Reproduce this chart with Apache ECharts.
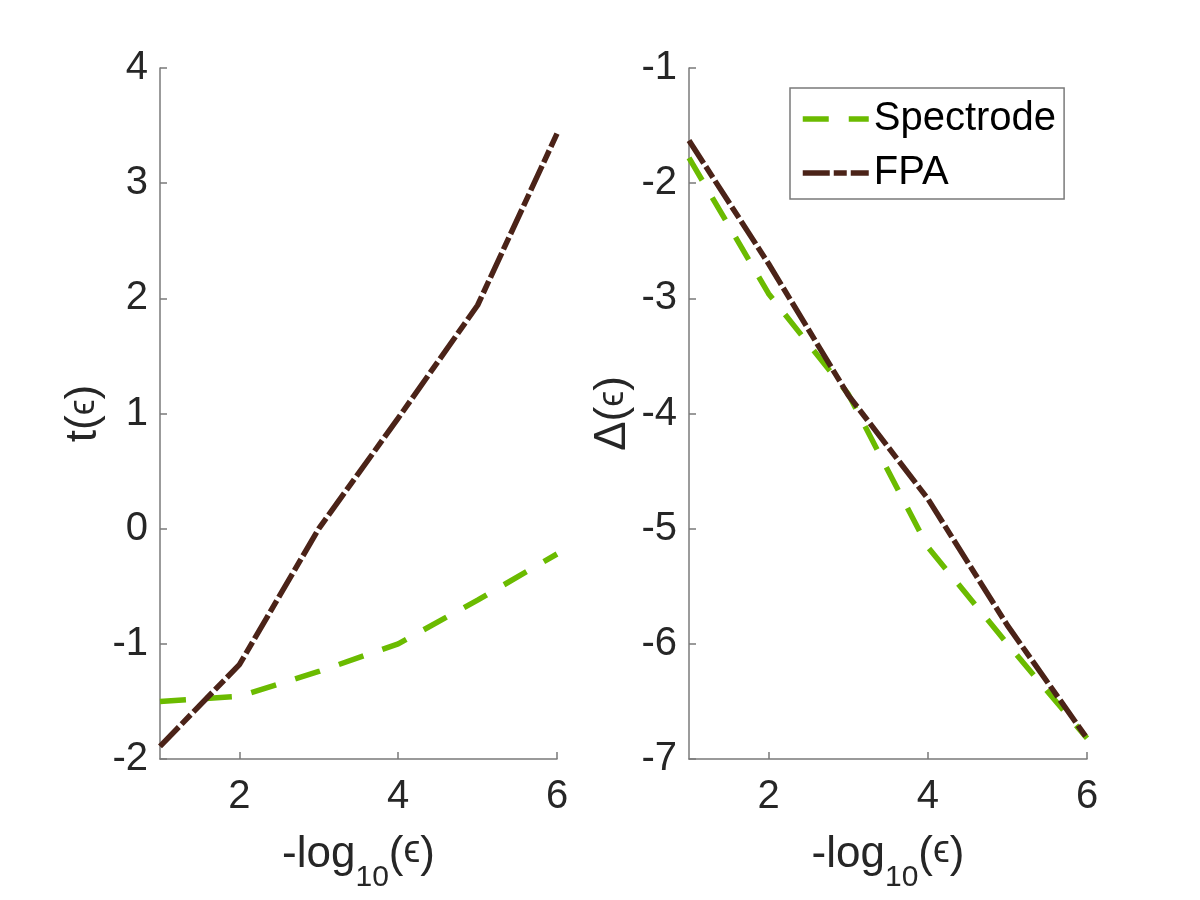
<!DOCTYPE html>
<html>
<head>
<meta charset="utf-8">
<script src="https://cdn.jsdelivr.net/npm/echarts@6/dist/echarts.min.js"></script>
<style>
  html, body { margin: 0; padding: 0; background: #fff; }
  #chart { width: 1200px; height: 900px; }
</style>
</head>
<body>
<div id="chart"></div>
<script>
// x values: -log10(eps)
const xValues = [1, 2, 3, 4, 5, 6];
// left panel: t(eps)
const timeSpectrode = [-1.50, -1.455, -1.24, -1.00, -0.62, -0.22];
const timeFPA = [-1.89, -1.18, 0.0, 0.96, 1.94, 3.43];
// right panel: Delta(eps)
const errSpectrode = [-1.78, -2.96, -3.83, -5.16, -6.0, -6.82];
const errFPA = [-1.63, -2.70, -3.84, -4.74, -5.84, -6.82];
const xTicks = [2, 4, 6];

const green = '#6bbb00';
const brown = '#4b2318';
const axisGray = '#7a7a7a';
const textDark = '#262626';
const fontFamily = '"Liberation Sans", Arial, sans-serif';
const spectrodeDash = [26, 20];
const fpaDash = [27, 4, 13, 4];

function pairs(ys) {
  return xValues.map((x, i) => [x, ys[i]]);
}

function xAxisFor(gridIndex) {
  return {
    type: 'value',
    gridIndex: gridIndex,
    min: 1,
    max: 6,
    name: '{a|-log}{s|10}{a|(}{e|ϵ}{a|)}',
    nameLocation: 'middle',
    nameGap: 74,
    nameTextStyle: {
      rich: {
        a: { fontSize: 44, color: textDark, fontFamily: fontFamily, lineHeight: 48, verticalAlign: 'top' },
        s: { fontSize: 30, color: textDark, fontFamily: fontFamily, lineHeight: 30, verticalAlign: 'top', padding: [30, 0, 0, 0] },
        e: { fontSize: 38, color: textDark, fontFamily: fontFamily, lineHeight: 48, verticalAlign: 'top' }
      }
    },
    axisLine: { show: true, onZero: false, lineStyle: { color: axisGray, width: 1.5 } },
    axisTick: { show: true, inside: true, length: 7, customValues: xTicks, lineStyle: { color: axisGray, width: 1.5 } },
    axisLabel: { customValues: xTicks, fontSize: 40, color: textDark, fontFamily: fontFamily, margin: 18 },
    splitLine: { show: false }
  };
}

function yAxisFor(gridIndex, min, max, label) {
  return {
    type: 'value',
    gridIndex: gridIndex,
    min: min,
    max: max,
    interval: 1,
    name: label,
    nameLocation: 'middle',
    nameGap: 54,
    nameRotate: 90,
    nameTextStyle: {
      rich: {
        a: { fontSize: 44, color: textDark, fontFamily: fontFamily },
        e: { fontSize: 36, color: textDark, fontFamily: fontFamily }
      }
    },
    axisLine: { show: true, onZero: false, lineStyle: { color: axisGray, width: 1.5 } },
    axisTick: { show: true, inside: true, length: 7, lineStyle: { color: axisGray, width: 1.5 } },
    axisLabel: { fontSize: 40, color: textDark, fontFamily: fontFamily, margin: 12 },
    splitLine: { show: false }
  };
}

function lineSeries(name, data, idx, color, dash) {
  return {
    name: name,
    type: 'line',
    xAxisIndex: idx,
    yAxisIndex: idx,
    data: pairs(data),
    showSymbol: false,
    symbol: 'none',
    animation: false,
    lineStyle: { color: color, width: 5.5, type: dash },
    itemStyle: { color: color }
  };
}

const chart = echarts.init(document.getElementById('chart'));
chart.setOption({
  backgroundColor: '#fff',
  animation: false,
  grid: [
    { left: 160, right: 643, top: 68, bottom: 141 },
    { left: 689, right: 113, top: 68, bottom: 141 }
  ],
  xAxis: [xAxisFor(0), xAxisFor(1)],
  yAxis: [
    yAxisFor(0, -2, 4, '{a|t(}{e|ϵ}{a|)}'),
    yAxisFor(1, -7, -1, '{a|Δ(}{e|ϵ}{a|)}')
  ],
  legend: {
    orient: 'vertical',
    left: 790,
    top: 88,
    data: ['Spectrode', 'FPA'],
    backgroundColor: '#fff',
    borderColor: axisGray,
    borderWidth: 1.5,
    borderRadius: 0,
    padding: [8, 8, 3, 10],
    itemGap: 8,
    itemWidth: 66,
    itemHeight: 12,
    itemStyle: { opacity: 0 },
    lineStyle: { width: 5.5 },
    textStyle: { fontSize: 40, color: '#000', fontFamily: fontFamily, lineHeight: 46 }
  },
  series: [
    lineSeries('Spectrode', timeSpectrode, 0, green, spectrodeDash),
    lineSeries('FPA', timeFPA, 0, brown, fpaDash),
    lineSeries('Spectrode', errSpectrode, 1, green, spectrodeDash),
    lineSeries('FPA', errFPA, 1, brown, fpaDash)
  ]
});
</script>
</body>
</html>
